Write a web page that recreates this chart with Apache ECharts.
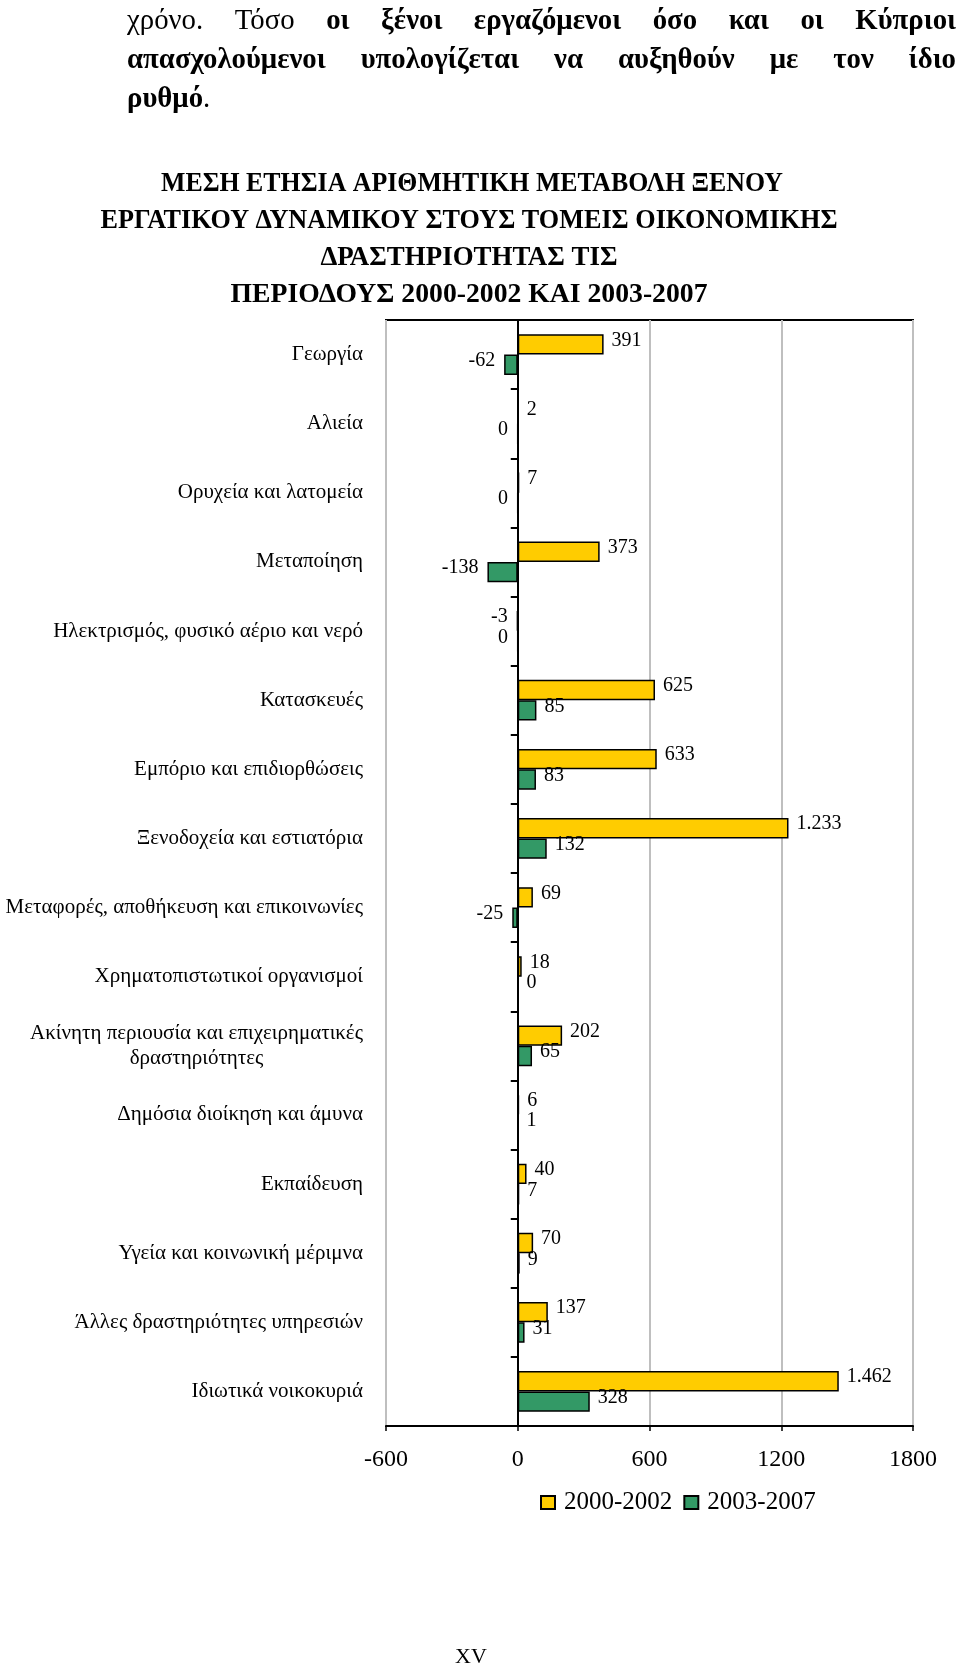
<!DOCTYPE html>
<html>
<head>
<meta charset="utf-8">
<script src="https://cdn.jsdelivr.net/npm/echarts@6/dist/echarts.min.js"></script>
<style>
html,body{margin:0;padding:0;background:#fff;}
#chart{width:960px;height:1668px;}
</style>
</head>
<body>
<div id="chart"></div>
<script>
// ---- data ----
const categories = [
  'Γεωργία',
  'Αλιεία',
  'Ορυχεία και λατομεία',
  'Μεταποίηση',
  'Ηλεκτρισμός, φυσικό αέριο και νερό',
  'Κατασκευές',
  'Εμπόριο και επιδιορθώσεις',
  'Ξενοδοχεία και εστιατόρια',
  'Μεταφορές, αποθήκευση και επικοινωνίες',
  'Χρηματοπιστωτικοί οργανισμοί',
  'Ακίνητη περιουσία και επιχειρηματικές\nδραστηριότητες',
  'Δημόσια διοίκηση και άμυνα',
  'Εκπαίδευση',
  'Υγεία και κοινωνική μέριμνα',
  'Άλλες δραστηριότητες υπηρεσιών',
  'Ιδιωτικά νοικοκυριά'
];
const seriesNames = ['2000-2002', '2003-2007'];
const values2000_2002 = [391, 2, 7, 373, -3, 625, 633, 1233, 69, 18, 202, 6, 40, 70, 137, 1462];
const values2003_2007 = [-62, -0.4, -0.4, -138, -0.4, 85, 83, 132, -25, 0, 65, 1, 7, 9, 31, 328];
const xTickValues = [-600, 0, 600, 1200, 1800];

const titleLines = [
  'ΜΕΣΗ ΕΤΗΣΙΑ ΑΡΙΘΜΗΤΙΚΗ ΜΕΤΑΒΟΛΗ ΞΕΝΟΥ',
  'ΕΡΓΑΤΙΚΟΥ ΔΥΝΑΜΙΚΟΥ ΣΤΟΥΣ ΤΟΜΕΙΣ ΟΙΚΟΝΟΜΙΚΗΣ',
  'ΔΡΑΣΤΗΡΙΟΤΗΤΑΣ ΤΙΣ',
  'ΠΕΡΙΟΔΟΥΣ 2000-2002 ΚΑΙ 2003-2007'
];
const paraLine1Normal = ['χρόνο.', 'Τόσο'];
const paraLine1Bold = ['οι', 'ξένοι', 'εργαζόμενοι', 'όσο', 'και', 'οι', 'Κύπριοι'];
const paraLine2Bold = ['απασχολούμενοι', 'υπολογίζεται', 'να', 'αυξηθούν', 'με', 'τον', 'ίδιο'];
const paraLine3Bold = 'ρυθμό';
const paraLine3Normal = '.';
const pageNumber = 'XV';

// ---- helpers ----
const FAMILY = 'Liberation Serif';
const ctx = document.createElement('canvas').getContext('2d');
function measure(text, size, weight) {
  ctx.font = (weight === 'bold' ? 'bold ' : '') + size + 'px ' + FAMILY;
  return ctx.measureText(text).width;
}
function txt(text, x, y, size, weight, align, sx) {
  return {
    type: 'text', x: x, y: y, scaleX: sx || 1,
    style: {
      text: text, fill: '#000',
      fontFamily: FAMILY, fontSize: size, fontWeight: weight || 'normal',
      textAlign: align || 'left', textVerticalAlign: 'middle',
      align: align || 'left', verticalAlign: 'middle'
    }
  };
}

function fmt(v) {
  const r = Math.round(v);
  const s = Math.abs(r).toString().replace(/\B(?=(\d{3})+(?!\d))/g, '.');
  return (r < 0 ? '-' : '') + s;
}

const P_SIZE = 30;
const P_X0 = 127, P_X1 = 956;
// horizontal scale chosen so that the bold second line keeps ~35px word gaps, as in the reference
const line2Total = paraLine2Bold.reduce((a, w) => a + measure(w, P_SIZE, 'bold'), 0);
const P_SX = Math.min(1.15, (P_X1 - P_X0 - 6 * 35) / line2Total);

function justifiedWords(words, x0, x1, y) {
  const widths = words.map(w => measure(w.t, P_SIZE, w.bold ? 'bold' : 'normal') * P_SX);
  const total = widths.reduce((a, b) => a + b, 0);
  const gap = (x1 - x0 - total) / (words.length - 1);
  let x = x0;
  return words.map((w, i) => {
    const el = txt(w.t, x, y, P_SIZE, w.bold ? 'bold' : 'normal', 'left', P_SX);
    x += widths[i] + gap;
    return el;
  });
}

const graphics = [];
const l1 = paraLine1Normal.map(t => ({ t, bold: false })).concat(paraLine1Bold.map(t => ({ t, bold: true })));
graphics.push(...justifiedWords(l1, P_X0, P_X1, 21));
graphics.push(...justifiedWords(paraLine2Bold.map(t => ({ t, bold: true })), P_X0, P_X1, 60));
graphics.push(txt(paraLine3Bold, P_X0, 99, P_SIZE, 'bold', 'left', P_SX));
graphics.push(txt(paraLine3Normal, P_X0 + measure(paraLine3Bold, P_SIZE, 'bold') * P_SX, 99, P_SIZE, 'normal', 'left', P_SX));

// title lines: [centerX, targetWidth, centerY]
const titleLayout = [[472, 622, 184], [469, 737, 221], [469, 297, 258], [469, 477, 295]];
titleLines.forEach((t, i) => {
  const [cx, w, cy] = titleLayout[i];
  graphics.push(txt(t, cx, cy, 27, 'bold', 'center', w / measure(t, 27, 'bold')));
});
graphics.push(txt(pageNumber, 471, 1657, 22, 'normal', 'center'));

function makeData(vals) {
  return vals.map(v => ({
    value: v,
    label: v < 0 ? { position: 'left', distance: 9 } : { position: 'right', distance: 8 }
  }));
}

const labelCommon = {
  show: true,
  formatter: p => fmt(p.value),
  fontFamily: FAMILY,
  fontSize: 20,
  color: '#000',
  offset: [0, -4]
};

const chart = echarts.init(document.getElementById('chart'), null, { renderer: 'canvas' });
chart.setOption({
  animation: false,
  backgroundColor: '#fff',
  textStyle: { fontFamily: FAMILY },
  graphic: graphics,
  grid: {
    left: 386, top: 320, right: 47, bottom: 242,
    show: true, borderColor: '#000', borderWidth: 2, backgroundColor: 'transparent',
    containLabel: false
  },
  legend: {
    data: seriesNames,
    left: 535, top: 1485,
    icon: 'rect',
    itemWidth: 14, itemHeight: 13, itemGap: 11,
    textStyle: { fontFamily: FAMILY, fontSize: 25, color: '#000', padding: [0, 0, 0, 4] }
  },
  xAxis: {
    type: 'value',
    min: xTickValues[0], max: xTickValues[xTickValues.length - 1],
    interval: xTickValues[1] - xTickValues[0],
    axisLine: { show: true, lineStyle: { color: '#000', width: 2 } },
    axisTick: { show: true, length: 5, lineStyle: { color: '#000', width: 1.5 } },
    axisLabel: { fontFamily: FAMILY, fontSize: 24, color: '#000', margin: 22, formatter: v => String(v) },
    splitLine: { show: true, lineStyle: { color: '#BFBFBF', width: 2 } }
  },
  yAxis: [
    {
      type: 'category', data: categories, inverse: true,
      axisLine: { show: true, onZero: true, lineStyle: { color: '#000', width: 2 } },
      axisTick: { show: true, length: 7, lineStyle: { color: '#000', width: 2 } },
      axisLabel: { show: false },
      splitLine: { show: false }
    },
    {
      type: 'category', data: categories, inverse: true, position: 'left',
      axisLine: { show: false, onZero: false },
      axisTick: { show: false },
      axisLabel: {
        show: true, margin: 23, fontFamily: FAMILY, fontSize: 21, color: '#000', lineHeight: 25,
        formatter: v => v.indexOf('\n') >= 0 ? v.split('\n').map(s => '{c|' + s + '}').join('\n') : v,
        rich: { c: { align: 'center', fontFamily: FAMILY, fontSize: 21, color: '#000', lineHeight: 25 } }
      },
      splitLine: { show: false }
    }
  ],
  series: [
    {
      name: seriesNames[0], type: 'bar', yAxisIndex: 0,
      data: makeData(values2000_2002),
      barGap: '0%', barCategoryGap: '41%',
      itemStyle: { color: '#FFCC00', borderColor: '#000', borderWidth: 1.5 },
      label: labelCommon
    },
    {
      name: seriesNames[1], type: 'bar', yAxisIndex: 0,
      data: makeData(values2003_2007),
      barGap: '0%', barCategoryGap: '41%',
      itemStyle: { color: '#339966', borderColor: '#000', borderWidth: 1.5 },
      label: labelCommon
    }
  ]
});
</script>
</body>
</html>
